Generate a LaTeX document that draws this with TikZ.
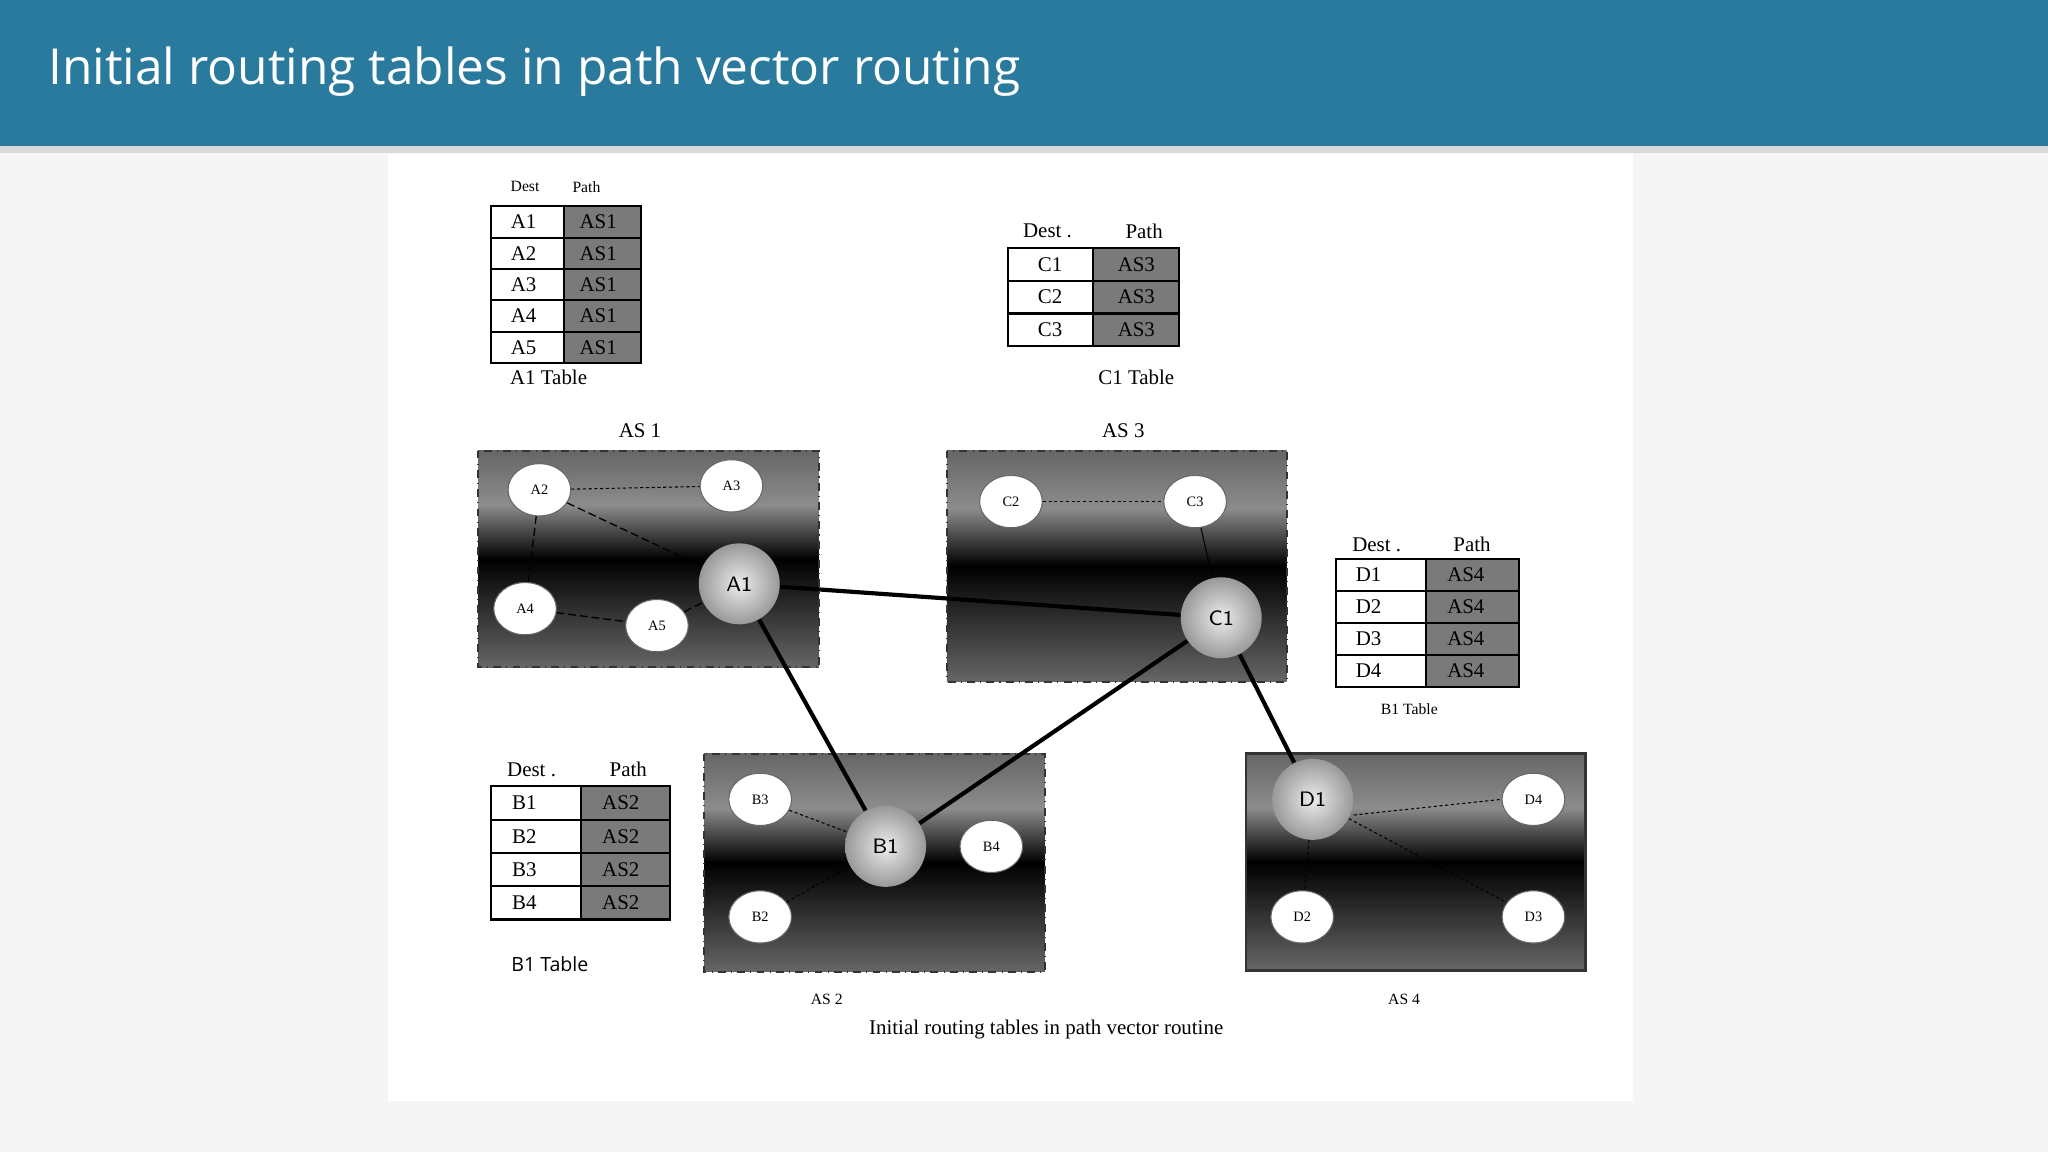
\documentclass[tikz,border=0pt]{standalone}
\usepackage{fontspec}
\setmainfont{Liberation Serif}
\newfontfamily\titlefont{Open Sans}
\newfontfamily\sansf{Open Sans}
\usetikzlibrary{shapes.geometric}
\definecolor{hdr}{HTML}{2A7A9E}
\definecolor{cellg}{HTML}{7A7A7A}
\tikzset{
 small/.style={ellipse,draw=black!60,fill=white,minimum width=24pt,minimum height=20pt,inner sep=0pt,font=\fontsize{5.5}{6}\selectfont},
 big/.style={ellipse,inner sep=0pt,minimum width=31pt,minimum height=31pt,shading=radial,inner color=white!85!gray,outer color=gray!80,font=\fontsize{8}{9}\selectfont\sffamily},
 thick link/.style={line width=1.6pt},
 dlink/.style={dash pattern=on 3pt off 1.5pt,line width=0.5pt},
 dotlink/.style={dash pattern=on 1.2pt off 1pt,line width=0.4pt},
 tl/.style={font=\fontsize{8}{9}\selectfont},
 tls/.style={font=\fontsize{6}{7}\selectfont},
}
\newcommand{\asbox}[5]{%
 \shade[top color=black!60, bottom color=black, middle color=black!45] (#1,#2) rectangle (#3,{(#2+#4)/2});
 \shade[top color=black, bottom color=black!60] (#1,{(#2+#4)/2}) rectangle (#3,#4);
 \draw[#5] (#1,#2) rectangle (#3,#4);}
\newcommand{\tbl}[5]{% x1 xm x2 ytop rowh ; rows via foreach
}
\begin{document}
\begin{tikzpicture}[x=0.5pt,y=-0.5pt]
\useasboundingbox (0,0) rectangle (1568,882);
\fill[black!4] (0,0) rectangle (1568,882);
\fill[white] (297,118) rectangle (1250,843);
\fill[black!15] (0,112) rectangle (1568,117);
\fill[hdr] (0,0) rectangle (1568,112);
\node[anchor=west,text=white,font=\titlefont\fontsize{19}{22}\selectfont] (title) at (30,55) {Initial routing tables in path vector routing};
% A1 table
\node[tls] (ah1) at (402,143) {Dest};
\node[tls] (ah2) at (449,143) {Path};
\foreach \i/\t in {1/A1,2/A2,3/A3,4/A4,5/A5}{
 \fill[cellg] (432,{158+(\i-1)*24}) rectangle (491,{158+\i*24});
 \draw[line width=0.8pt] (376,{158+(\i-1)*24}) rectangle (432,{158+\i*24});
 \draw[line width=0.8pt] (432,{158+(\i-1)*24}) rectangle (491,{158+\i*24});
 \node[tl,anchor=west] at (384,{158+(\i-0.5)*24}) {\t};
 \node[tl] at (458,{158+(\i-0.5)*24}) {AS1};}
\node[tl] (at) at (420,289) {A1 Table};
% C1 table
\node[tl] (ch1) at (802,177) {Dest .};
\node[tl] (ch2) at (876,177) {Path};
\foreach \i/\t in {1/C1,2/C2,3/C3}{
 \fill[cellg] (837,{190+(\i-1)*25}) rectangle (903,{190+\i*25});
 \draw[line width=0.8pt] (772,{190+(\i-1)*25}) rectangle (837,{190+\i*25});
 \draw[line width=0.8pt] (837,{190+(\i-1)*25}) rectangle (903,{190+\i*25});
 \node[tl] at (804,{190+(\i-0.5)*25}) {\t};
 \node[tl] at (870,{190+(\i-0.5)*25}) {AS3};}
\node[tl] (ct) at (870,289) {C1 Table};
% D table
\node[tl] (dh1) at (1054,417) {Dest .};
\node[tl] (dh2) at (1127,417) {Path};
\foreach \i/\t in {1/D1,2/D2,3/D3,4/D4}{
 \fill[cellg] (1092,{428+(\i-1)*24.5}) rectangle (1163,{428+\i*24.5});
 \draw[line width=0.8pt] (1023,{428+(\i-1)*24.5}) rectangle (1092,{428+\i*24.5});
 \draw[line width=0.8pt] (1092,{428+(\i-1)*24.5}) rectangle (1163,{428+\i*24.5});
 \node[tl,anchor=west] at (1031,{428+(\i-0.5)*24.5}) {\t};
 \node[tl,anchor=west] at (1101,{428+(\i-0.5)*24.5}) {AS4};}
\node[tls] (dt) at (1079,543) {B1 Table};
% B table
\node[tl] (bh1) at (407,589) {Dest .};
\node[tl] (bh2) at (481,589) {Path};
\foreach \i/\t in {1/B1,2/B2,3/B3,4/B4}{
 \fill[cellg] (445,{602+(\i-1)*25.5}) rectangle (513,{602+\i*25.5});
 \draw[line width=0.8pt] (376,{602+(\i-1)*25.5}) rectangle (445,{602+\i*25.5});
 \draw[line width=0.8pt] (445,{602+(\i-1)*25.5}) rectangle (513,{602+\i*25.5});
 \node[tl,anchor=west] at (385,{602+(\i-0.5)*25.5}) {\t};
 \node[tl,anchor=west] at (454,{602+(\i-0.5)*25.5}) {AS2};}
\node[font=\sansf\fontsize{7.5}{9}\selectfont] (bt) at (421,738) {B1 Table};
% AS boxes
\asbox{366}{345}{627}{511}{dash dot,line width=0.8pt,black!80}
\asbox{725}{345}{985}{522}{dash dot,line width=0.8pt,black!80}
\asbox{539}{577}{800}{744}{dash dot,line width=0.8pt,black!80}
\asbox{954}{577}{1214}{743}{line width=1pt,black!80}
\node[tl] (l1) at (490,330) {AS 1};
\node[tl] (l3) at (860,330) {AS 3};
\node[tls] (l2) at (633,765) {AS 2};
\node[tls] (l4) at (1075,765) {AS 4};
\node[tl] (cap) at (801,788) {Initial routing tables in path vector routine};
% nodes
\node[small] (A2) at (413,375) {A2};
\node[small] (A3) at (560,372) {A3};
\node[small] (A4) at (402,466) {A4};
\node[small] (A5) at (503,479) {A5};
\node[small] (C2) at (774,384) {C2};
\node[small] (C3) at (915,384) {C3};
\node[small] (B3) at (582,612) {B3};
\node[small] (B4) at (759,648) {B4};
\node[small] (B2) at (582,702) {B2};
\node[small] (D4) at (1174,612) {D4};
\node[small] (D2) at (997,702) {D2};
\node[small] (D3) at (1174,702) {D3};
\node[big] (A1) at (566,447) {A1};
\node[big] (C1) at (935,473) {C1};
\node[big] (B1) at (678,648) {B1};
\node[big] (D1) at (1005,612) {D1};
% links
\draw[dotlink] (A2) -- (A3);
\draw[dlink] (A2) -- (A1);
\draw[dlink] (A2) -- (A4);
\draw[dlink] (A4) -- (A5);
\draw[dlink] (A5) -- (A1);
\draw[dotlink] (C2) -- (C3);
\draw[line width=0.4pt] (C3) -- (C1);
\draw[dotlink] (B3) -- (B1);
\draw[dotlink] (B2) -- (B1);
\draw[dotlink] (D1.east) ++(0,12) -- (D4.west);
\draw[dotlink] (D1) -- (D3);
\draw[dotlink] (D1) -- (D2);
\draw[thick link] (A1) -- (C1);
\draw[thick link] (A1) -- (B1);
\draw[thick link] (C1) -- (B1);
\draw[thick link] (C1) -- (D1);
\end{tikzpicture}
\end{document}
